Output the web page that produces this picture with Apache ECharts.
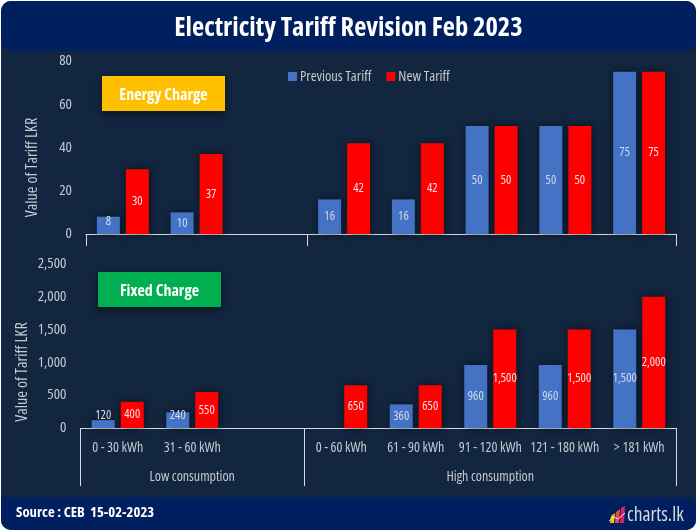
<!DOCTYPE html>
<html>
<head>
<meta charset="utf-8">
<style>
  html, body { margin: 0; padding: 0; background: #fff; }
  #chart { width: 697px; height: 531px; }
</style>
<script src="https://cdn.jsdelivr.net/npm/echarts@6/dist/echarts.min.js"></script>
</head>
<body>
<div id="chart"></div>
<script>
var categories = ['0 - 30 kWh', '31 - 60 kWh', '', '0 - 60 kWh', '61 - 90 kWh', '91 - 120 kWh', '121 - 180 kWh', '> 181 kWh'];
var energyPrevious = [8, 10, null, 16, 16, 50, 50, 75];
var energyNew = [30, 37, null, 42, 42, 50, 50, 75];
var fixedPrevious = [120, 240, null, null, 360, 960, 960, 1500];
var fixedNew = [400, 550, null, 650, 650, 1500, 1500, 2000];
var groups = [
  { name: 'Low consumption', from: 0, to: 2 },
  { name: 'High consumption', from: 3, to: 7 }
];

var FONT = '"Open Sans", sans-serif';
// the width keyword ends up in the canvas font shorthand
var NARROW = 'extra-condensed';
var BOLD = 'bold extra-condensed';
var GREY = '#c4c9d0';
var BLUE = '#4472C4';
var RED = '#FF0000';

var chart = echarts.init(document.getElementById('chart'));

function thousands(v) {
  return String(v).replace(/\B(?=(\d{3})+$)/g, ',');
}

// bars too short for a centred label get it nudged up
function barData(values, offsets) {
  return values.map(function (v, i) {
    if (offsets && offsets[i]) {
      return { value: v, label: { offset: [0, offsets[i]] } };
    }
    return v;
  });
}

function barSeries(name, values, color, labelColor, axis, offsets) {
  return {
    name: name,
    type: 'bar',
    xAxisIndex: axis,
    yAxisIndex: axis,
    data: barData(values, offsets),
    barWidth: 23,
    barGap: '26%',
    itemStyle: { color: color, shadowColor: 'rgba(0,0,0,0.55)', shadowBlur: 8, shadowOffsetX: 1, shadowOffsetY: 0 },
    label: {
      show: true,
      position: 'inside',
      color: labelColor,
      fontFamily: FONT,
      fontWeight: NARROW,
      fontSize: 12.5,
      formatter: function (p) { return thousands(p.value); }
    }
  };
}

function yAxis(grid, max, interval, nameGap, nameShift) {
  return {
    type: 'value',
    gridIndex: grid,
    min: 0,
    max: max,
    interval: interval,
    name: 'Value of Tariff LKR',
    nameLocation: 'middle',
    nameGap: nameGap,
    nameMoveOverlap: false,
    // the title sits below the middle of the axis
    nameTextStyle: { color: GREY, fontFamily: FONT, fontWeight: NARROW, fontSize: 16, padding: [0, nameShift, 0, 0] },
    axisLine: { show: false },
    axisTick: { show: false },
    splitLine: { show: false },
    axisLabel: {
      color: GREY,
      fontFamily: FONT,
      fontWeight: NARROW,
      fontSize: 15,
      margin: 14,
      padding: [4, 0, 0, 0],
      formatter: thousands
    }
  };
}

function xAxis(grid, showLabels) {
  return {
    type: 'category',
    gridIndex: grid,
    data: categories,
    axisLine: { lineStyle: { color: '#d9d9d9', width: 1 } },
    axisTick: { show: false },
    axisLabel: {
      show: showLabels,
      interval: 0,
      color: GREY,
      fontFamily: FONT,
      fontWeight: NARROW,
      fontSize: 14,
      margin: 13,
      hideOverlap: false
    }
  };
}

// note box with the shadow under it
function noteBox(x, y, text, color) {
  return {
    type: 'group',
    x: x,
    y: y,
    z: 20,
    children: [
      {
        type: 'rect',
        shape: { width: 123, height: 35 },
        style: { fill: color, shadowColor: 'rgba(0,0,0,0.5)', shadowBlur: 8, shadowOffsetY: 3 }
      },
      {
        type: 'text',
        x: 61.5,
        y: 19.5,
        style: { text: text, fill: '#fff', font: BOLD + ' 16px ' + FONT, textAlign: 'center', textVerticalAlign: 'middle' }
      }
    ]
  };
}

var frame = [
  { type: 'rect', z: 0, shape: { x: 1, y: 1, width: 695, height: 529, r: 10 }, style: { fill: '#12263F' } },
  { type: 'rect', z: 1, shape: { x: 1, y: 1, width: 695, height: 50, r: 10 }, style: { fill: '#001F5F' } },
  { type: 'rect', z: 1, shape: { x: 1, y: 497, width: 695, height: 33, r: [0, 10, 10, 10] }, style: { fill: '#001F5F' } },
  {
    type: 'text', z: 2, x: 348.5, y: 28,
    style: { text: 'Electricity Tariff Revision Feb 2023', fill: '#fff', font: BOLD + ' 26.5px ' + FONT, textAlign: 'center', textVerticalAlign: 'middle' }
  },
  {
    type: 'text', z: 2, x: 16, y: 513,
    style: { text: 'Source : CEB  15-02-2023', fill: '#fff', font: BOLD + ' 14.7px ' + FONT, textVerticalAlign: 'middle' }
  },
  {
    type: 'text', z: 2, x: 627, y: 515,
    style: { text: 'charts.lk', fill: '#d4d8de', font: NARROW + ' 19.5px ' + FONT, textVerticalAlign: 'middle' }
  },
  { type: 'polygon', z: 2, shape: { points: [[610, 523], [611, 516], [615, 513], [614, 523]] }, style: { fill: '#FFC000' } },
  { type: 'polygon', z: 2, shape: { points: [[615, 523], [616, 512], [620, 509], [619, 523]] }, style: { fill: '#F0483E' } },
  { type: 'polygon', z: 2, shape: { points: [[620, 523], [621, 508], [625, 506], [624, 523]] }, style: { fill: '#D6246E' } },
  {
    type: 'polyline', z: 3,
    shape: { points: [[609, 521], [614, 517], [618, 519], [625, 513]] },
    style: { stroke: '#e8e8e8', lineWidth: 1, fill: null }
  },
  noteBox(102, 76, 'Energy Charge', '#FFC000'),
  noteBox(98, 272, 'Fixed Charge', '#00B050')
];

chart.setOption({
  animation: false,
  backgroundColor: '#fff',
  legend: {
    data: ['Previous Tariff', 'New Tariff'],
    left: 283,
    top: 64,
    itemWidth: 9,
    itemHeight: 9,
    itemGap: 15,
    icon: 'rect',
    textStyle: { color: GREY, fontFamily: FONT, fontWeight: NARROW, fontSize: 14.5, padding: [0, 0, 0, -2] }
  },
  grid: [
    { left: 86, right: 21, top: 61, height: 173, outerBoundsMode: 'none' },
    { left: 80.5, right: 20.5, top: 264, height: 164, outerBoundsMode: 'none' }
  ],
  xAxis: [xAxis(0, false), xAxis(1, true)],
  yAxis: [yAxis(0, 80, 20, 46, 40), yAxis(1, 2500, 500, 50, 52)],
  series: [
    barSeries('Previous Tariff', energyPrevious, BLUE, '#d5dbe6', 0, [-4]),
    barSeries('New Tariff', energyNew, RED, '#f4e4e4', 0),
    barSeries('Previous Tariff', fixedPrevious, BLUE, '#d5dbe6', 1, [-9, -5]),
    barSeries('New Tariff', fixedNew, RED, '#f4e4e4', 1)
  ],
  graphic: frame
});

// group dividers and group names follow the axis scale
function bandEdge(grid, index) {
  var first = chart.convertToPixel({ xAxisIndex: grid }, 0);
  var band = chart.convertToPixel({ xAxisIndex: grid }, 1) - first;
  return first + band * (index - 0.5);
}

function divider(x, y0, y1) {
  x = Math.floor(x) + 0.5;
  return { type: 'line', z: 5, shape: { x1: x, y1: y0, x2: x, y2: y1 }, style: { stroke: '#d9d9d9', lineWidth: 1 } };
}

var extras = [];
[[0, 12], [1, 58]].forEach(function (item) {
  var grid = item[0];
  var base = chart.convertToPixel({ yAxisIndex: grid }, 0);
  groups.forEach(function (g) {
    extras.push(divider(bandEdge(grid, g.from), base, base + item[1]));
  });
  extras.push(divider(bandEdge(grid, categories.length), base, base + item[1]));
  if (grid === 1) {
    groups.forEach(function (g) {
      extras.push({
        type: 'text',
        z: 5,
        x: (bandEdge(grid, g.from) + bandEdge(grid, g.to + 1)) / 2,
        y: base + 49,
        style: { text: g.name, fill: GREY, font: NARROW + ' 14px ' + FONT, textAlign: 'center', textVerticalAlign: 'middle' }
      });
    });
  }
});
chart.setOption({ graphic: frame.concat(extras) });
</script>
</body>
</html>
